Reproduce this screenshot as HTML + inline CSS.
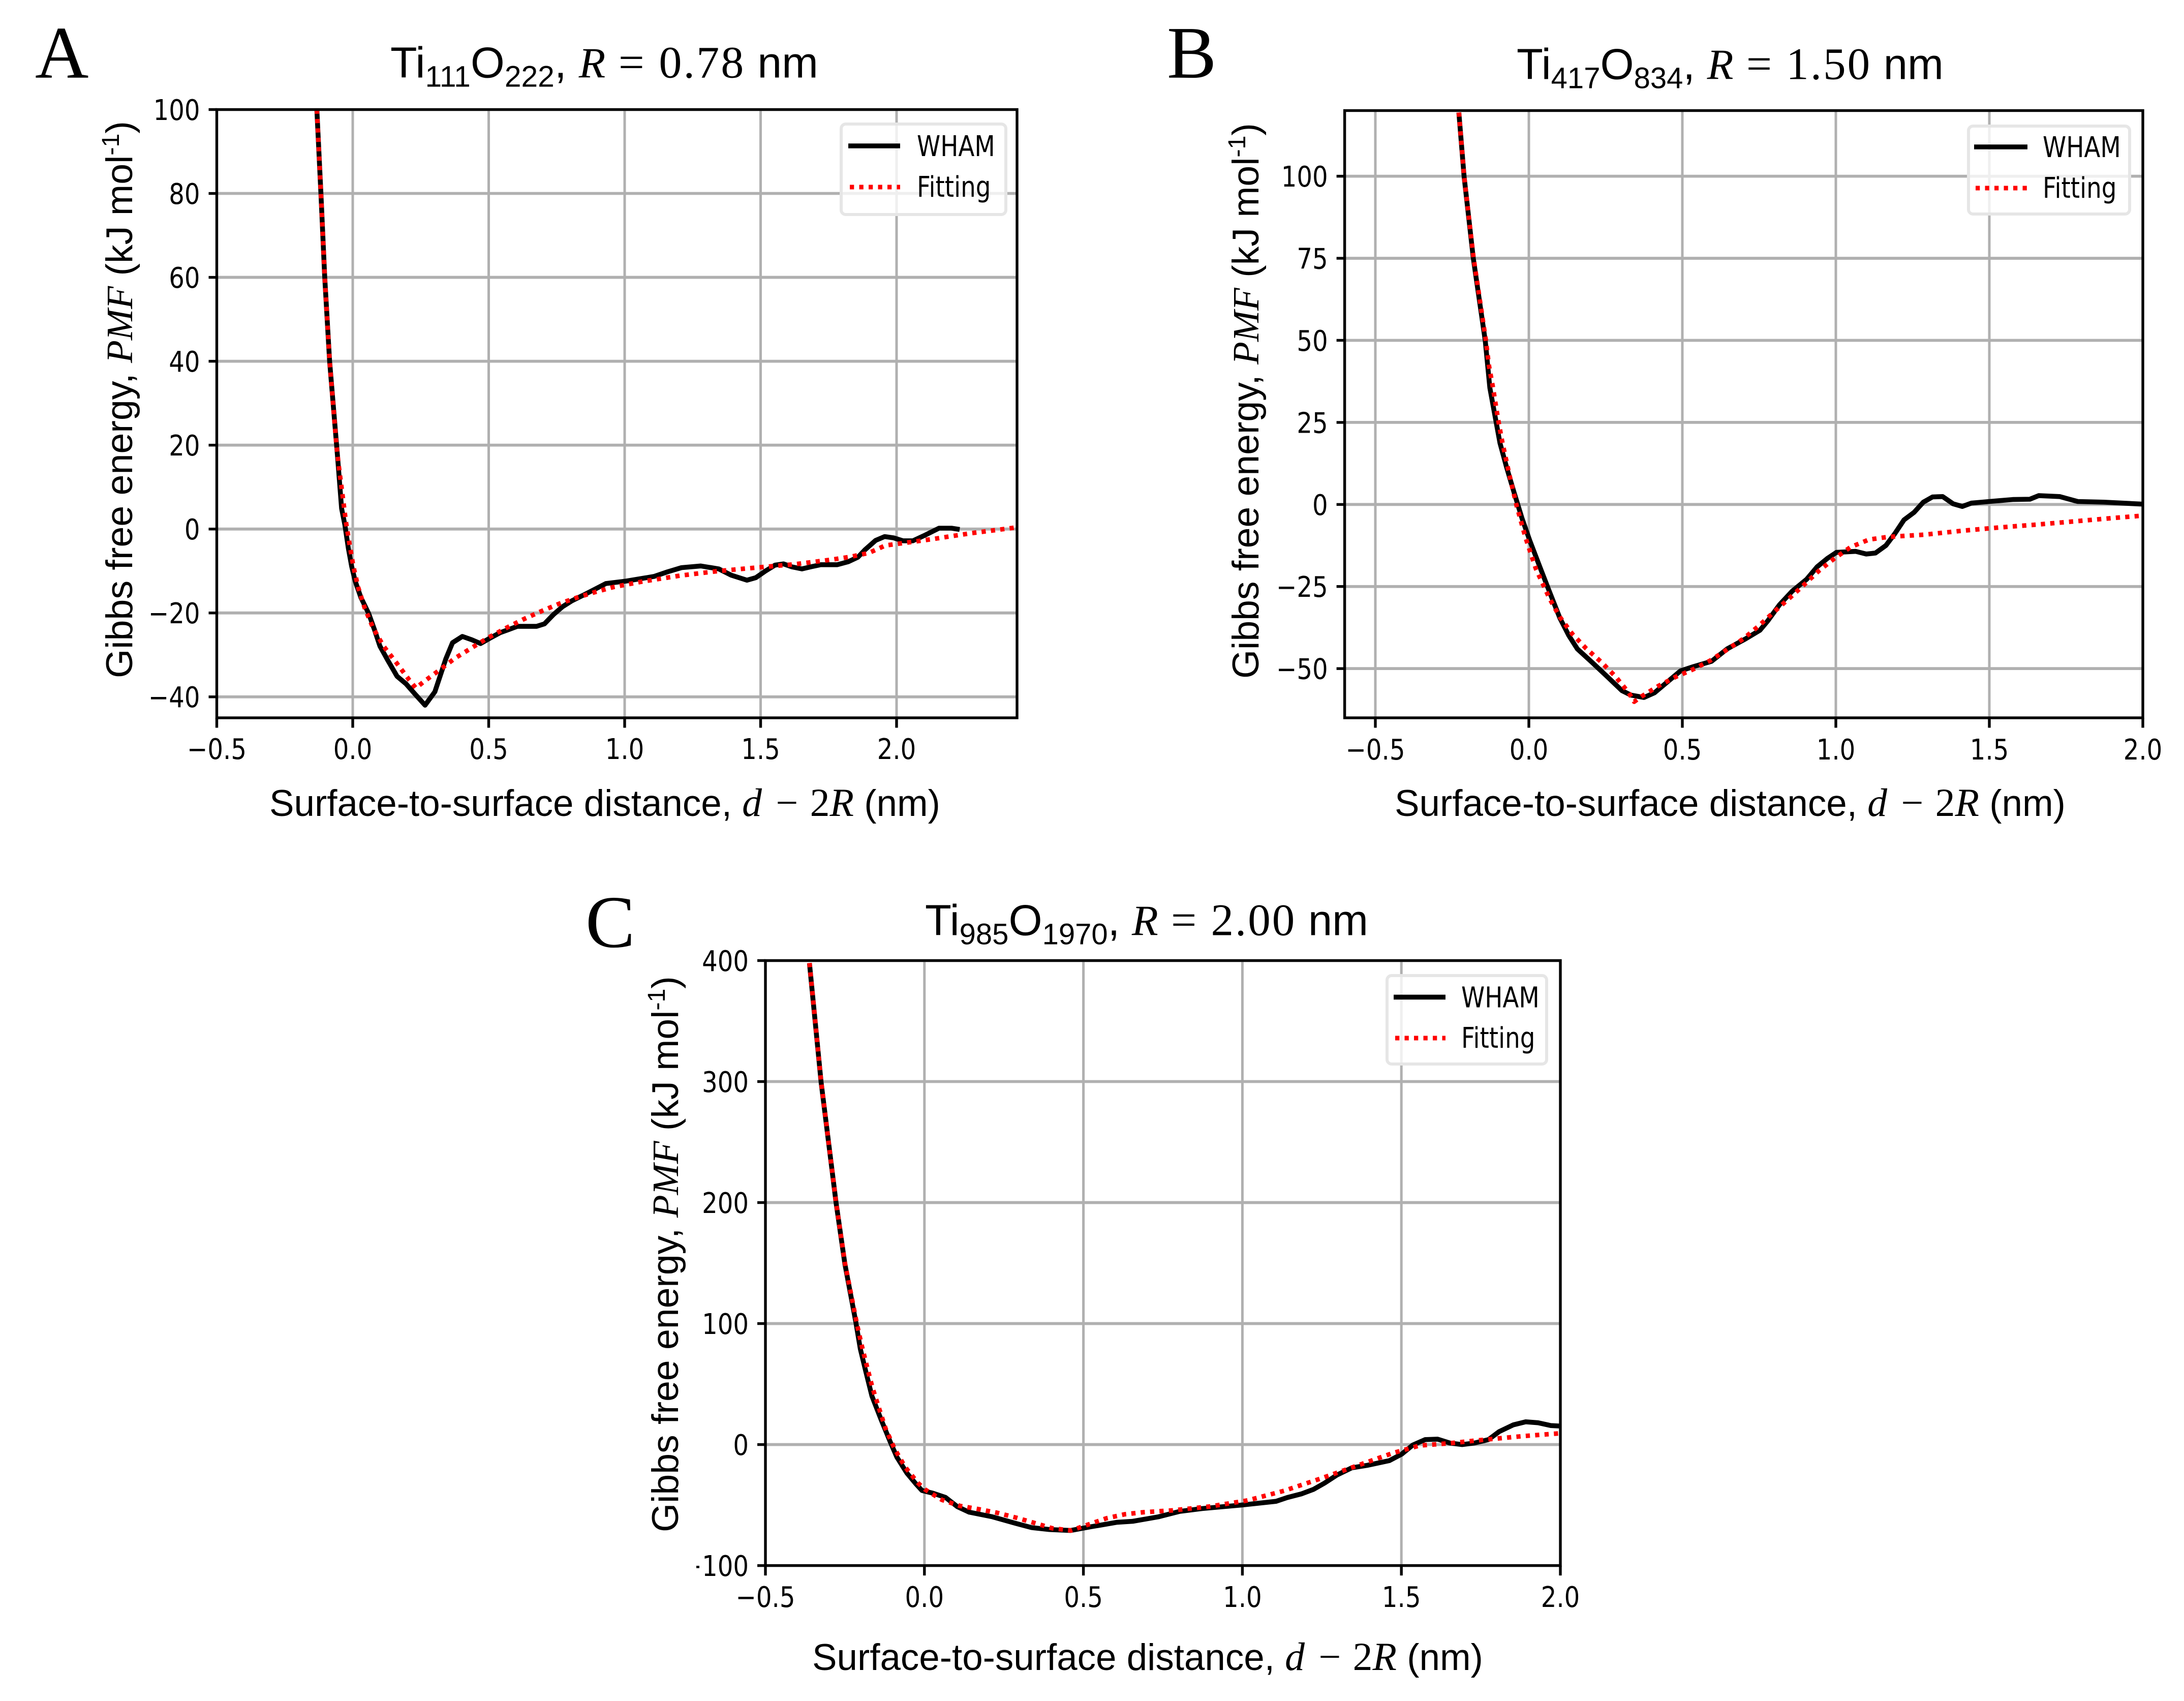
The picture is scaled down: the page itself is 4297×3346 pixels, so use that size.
<!DOCTYPE html>
<html lang="en">
<head>
<meta charset="utf-8">
<title>Gibbs free energy PMF curves for TiO2 nanoparticles</title>
<style>
html,body{margin:0;padding:0;background:#fff;width:4297px;height:3346px;overflow:hidden}
svg{display:block}
text{font-family:"Liberation Sans",sans-serif;fill:#000;white-space:pre}
.m{font-family:"Liberation Serif",serif}
.i{font-family:"Liberation Serif",serif;font-style:italic}
.panel-letter{font-family:"Liberation Serif",serif;font-size:146px}
.tick{font-family:"DejaVu Sans",sans-serif;font-size:56px}
.leg{font-family:"DejaVu Sans",sans-serif;font-size:56px}
.ttl{font-size:85px}
.lab{font-size:73px}
</style>
</head>
<body>
<svg id="fig" xmlns="http://www.w3.org/2000/svg" width="4297" height="3346" viewBox="0 0 4297 3346">
  <rect width="4297" height="3346" fill="#fff"/>
  <g id="panel-a"></g>
  <g id="panel-b"></g>
  <g id="panel-c"></g>

  <text class="panel-letter" x="69" y="152.7">A</text>
  <text class="panel-letter" x="2296" y="152.7">B</text>
  <text class="panel-letter" x="1152" y="1862.7">C</text>

  <text class="ttl fit" data-x0="768" data-x1="1610" data-y="152.6">Ti<tspan dy="18" font-size="58">111</tspan><tspan dy="-18">O</tspan><tspan dy="18" font-size="58">222</tspan><tspan dy="-18">, </tspan><tspan class="i">R</tspan><tspan class="m" font-size="89" letter-spacing="3"> = 0.78</tspan> nm</text>
  <text class="ttl fit" data-x0="2984" data-x1="3824" data-y="155.6">Ti<tspan dy="18" font-size="58">417</tspan><tspan dy="-18">O</tspan><tspan dy="18" font-size="58">834</tspan><tspan dy="-18">, </tspan><tspan class="i">R</tspan><tspan class="m" font-size="89" letter-spacing="3"> = 1.50</tspan> nm</text>
  <text class="ttl fit" data-x0="1820" data-x1="2692" data-y="1839.6">Ti<tspan dy="18" font-size="58">985</tspan><tspan dy="-18">O</tspan><tspan dy="18" font-size="58">1970</tspan><tspan dy="-18">, </tspan><tspan class="i">R</tspan><tspan class="m" font-size="89" letter-spacing="3"> = 2.00</tspan> nm</text>

  <text class="lab fit" data-x0="530" data-x1="1850" data-y="1605">Surface-to-surface distance, <tspan class="i" font-size="78">d</tspan><tspan class="m" font-size="78" dx="8"> − </tspan><tspan class="m" font-size="78" dx="4">2</tspan><tspan class="i" font-size="78">R</tspan> (nm)</text>
  <text class="lab fit" data-x0="2744" data-x1="4064" data-y="1605">Surface-to-surface distance, <tspan class="i" font-size="78">d</tspan><tspan class="m" font-size="78" dx="8"> − </tspan><tspan class="m" font-size="78" dx="4">2</tspan><tspan class="i" font-size="78">R</tspan> (nm)</text>
  <text class="lab fit" data-x0="1598" data-x1="2918" data-y="3285">Surface-to-surface distance, <tspan class="i" font-size="78">d</tspan><tspan class="m" font-size="78" dx="8"> − </tspan><tspan class="m" font-size="78" dx="4">2</tspan><tspan class="i" font-size="78">R</tspan> (nm)</text>

  <text class="lab fitv" data-y0="1334" data-y1="238" data-x="260">Gibbs free energy, <tspan class="i">PMF</tspan> (kJ mol<tspan dy="-26" font-size="48">-1</tspan><tspan dy="26">)</tspan></text>
  <text class="lab fitv" data-y0="1335" data-y1="242" data-x="2476">Gibbs free energy, <tspan class="i">PMF</tspan> (kJ mol<tspan dy="-26" font-size="48">-1</tspan><tspan dy="26">)</tspan></text>
  <text class="lab fitv" data-y0="3014" data-y1="1920" data-x="1334">Gibbs free energy, <tspan class="i">PMF</tspan> (kJ mol<tspan dy="-26" font-size="48">-1</tspan><tspan dy="26">)</tspan></text>
</svg>

<script>
// ---------- Panel A data ----------
const aXTicks = [-0.5, 0, 0.5, 1, 1.5, 2];
const aXTickLabels = ['−0.5', '0.0', '0.5', '1.0', '1.5', '2.0'];
const aYTicks = [-40, -20, 0, 20, 40, 60, 80, 100];
const aYTickLabels = ['−40', '−20', '0', '20', '40', '60', '80', '100'];
const aWhamD = [-0.132,-0.117,-0.103,-0.085,-0.0555,-0.041,-0.029,-0.016,-0.004,0.009,0.03,0.059,0.08,0.10,0.13,0.163,0.196,0.23,0.266,0.302,0.322,0.342,0.367,0.403,0.438,0.47,0.505,0.542,0.572,0.605,0.676,0.705,0.738,0.772,0.806,0.847,0.889,0.931,1.006,1.108,1.158,1.209,1.28,1.346,1.392,1.45,1.482,1.518,1.553,1.584,1.614,1.652,1.685,1.721,1.782,1.822,1.858,1.883,1.923,1.956,1.989,2.024,2.06,2.10,2.156,2.202,2.232];
const aWhamPmf = [100,80,60,40,17,4.9,1,-4.6,-8.9,-12.4,-16.3,-20.2,-24,-27.9,-31.4,-35.1,-36.9,-39.4,-42,-38.8,-34.9,-31,-27.1,-25.6,-26.4,-27.3,-26,-24.7,-24,-23.2,-23.2,-22.6,-20.4,-18.5,-17.1,-15.8,-14.4,-13,-12.4,-11.3,-10.2,-9.2,-8.8,-9.5,-11,-12.2,-11.6,-10,-8.6,-8.3,-9,-9.5,-9,-8.5,-8.5,-7.8,-6.7,-5,-2.7,-1.8,-2.1,-2.8,-2.8,-1.6,0.2,0.2,-0.1];
const aFitD = [-0.132,-0.117,-0.103,-0.085,-0.06,-0.051,-0.035,-0.025,-0.012,0.002,0.02,0.044,0.075,0.113,0.161,0.207,0.232,0.259,0.317,0.376,0.438,0.501,0.564,0.628,0.693,0.759,0.826,0.893,0.961,1.067,1.204,1.346,1.482,1.624,1.761,1.832,1.898,1.959,2.03,2.131,2.273,2.443];
const aFitPmf = [100,80,60,40,20,14.9,6.8,1.7,-3.5,-8.8,-13.9,-18.8,-23.6,-27.9,-31.9,-35.9,-37.9,-36.5,-33.7,-30.8,-28.3,-25.8,-23.6,-21.5,-19.6,-17.8,-16.3,-15,-13.8,-12.5,-11.1,-10,-9.2,-8.4,-7.3,-6.6,-5.7,-3.9,-3.3,-2.4,-1,0.4];

// ---------- Panel B data ----------
const bXTicks = [-0.5, 0, 0.5, 1, 1.5, 2];
const bXTickLabels = ['−0.5', '0.0', '0.5', '1.0', '1.5', '2.0'];
const bYTicks = [-50, -25, 0, 25, 50, 75, 100];
const bYTickLabels = ['−50', '−25', '0', '25', '50', '75', '100'];
const bWhamD = [-0.228,-0.211,-0.181,-0.142,-0.127,-0.111,-0.094,-0.073,-0.047,-0.022,0.003,0.037,0.071,0.101,0.13,0.158,0.206,0.257,0.303,0.333,0.375,0.409,0.451,0.494,0.536,0.595,0.646,0.705,0.753,0.778,0.816,0.858,0.905,0.939,0.973,1.002,1.065,1.099,1.129,1.163,1.192,1.222,1.255,1.285,1.315,1.348,1.382,1.412,1.441,1.5,1.576,1.632,1.661,1.729,1.788,1.873,2.0];
const bWhamPmf = [119.4,99.9,75,49.9,35.5,27.3,18.7,11.5,3.3,-4.3,-11,-19.3,-27.5,-34.6,-39.9,-44,-48.1,-52.6,-56.7,-58.1,-58.8,-57.4,-54.1,-50.7,-49.4,-47.8,-44,-41,-38.3,-35.5,-30.6,-26.4,-22.8,-19,-16.4,-14.6,-14.3,-15.1,-14.8,-12.5,-8.9,-4.7,-2.4,0.7,2.3,2.4,0.2,-0.6,0.4,0.9,1.5,1.6,2.7,2.4,0.9,0.7,0.1];
const bFitD = [-0.228,-0.211,-0.18,-0.14,-0.13,-0.117,-0.1,-0.087,-0.064,-0.04,-0.011,0.023,0.067,0.101,0.141,0.187,0.236,0.282,0.325,0.343,0.367,0.422,0.477,0.536,0.592,0.646,0.699,0.749,0.799,0.847,0.897,0.945,0.996,1.048,1.108,1.169,1.289,1.412,1.534,1.659,1.784,1.906,2.0];
const bFitPmf = [119.4,100,75,50,42.3,35.7,25.8,19.2,9.3,-0.3,-10.1,-19.6,-28.6,-34.3,-39.4,-43.9,-48,-52.4,-57.3,-60.1,-58.5,-55.3,-52.6,-50.2,-47.5,-44.2,-40.9,-37,-32.7,-28.7,-24.4,-20.2,-16.4,-13,-10.7,-9.9,-9.2,-8,-7,-6.1,-5.1,-4.1,-3.4];

// ---------- Panel C data ----------
const cXTicks = [-0.5, 0, 0.5, 1, 1.5, 2];
const cXTickLabels = ['−0.5', '0.0', '0.5', '1.0', '1.5', '2.0'];
const cYTicks = [-100, 0, 100, 200, 300, 400];
const cYTickLabels = ['−100', '0', '100', '200', '300', '400'];
const cWhamD = [-0.3616,-0.325,-0.278,-0.25,-0.216,-0.2015,-0.185,-0.165,-0.136,-0.108,-0.087,-0.055,-0.026,-0.008,0.027,0.066,0.104,0.141,0.214,0.288,0.337,0.393,0.459,0.524,0.606,0.655,0.736,0.803,0.873,1.0,1.106,1.141,1.185,1.224,1.258,1.297,1.344,1.392,1.462,1.501,1.536,1.575,1.614,1.652,1.691,1.73,1.774,1.808,1.852,1.891,1.93,1.97,2.0];
const cWhamPmf = [397.8,299.5,200,149,101.5,79,61,40,20.5,2.6,-10.2,-23.6,-32.7,-37.9,-40.2,-43.6,-51.4,-55.9,-59.7,-65.2,-68.6,-70.2,-71,-67.9,-64.2,-63.4,-59.7,-55.2,-52.9,-49.9,-46.9,-43.8,-40.8,-37,-31.9,-25.2,-19.2,-17.2,-13.3,-7.9,-0.4,4.1,4.5,1.3,0,1.3,4.1,10.8,16.3,18.8,18,15.7,15.3];
const cFitD = [-0.3616,-0.325,-0.278,-0.25,-0.2126,-0.1976,-0.181,-0.164,-0.143,-0.122,-0.094,-0.061,-0.021,0.002,0.055,0.112,0.171,0.229,0.288,0.345,0.401,0.461,0.516,0.573,0.63,0.69,0.779,0.897,1.016,1.131,1.245,1.358,1.471,1.557,1.648,1.765,1.884,2.0];
const cFitPmf = [398,300,200,150,100,82.3,64.8,47.5,30.3,13,-3.4,-18.4,-31.6,-37.2,-45.7,-50.7,-53.4,-56.4,-60.4,-64.7,-69.1,-71,-66,-60.9,-57.6,-55.9,-54.4,-51.2,-46.2,-38.2,-28.2,-17.7,-7.2,-0.8,1,4.1,7,9.3];

// ---------- Shared legend text ----------
const legendLabels = ['WHAM', 'Fitting'];

const NS = 'http://www.w3.org/2000/svg';
const TICK_SX = 0.86;

function mk(parent, tag, attrs) {
  const el = document.createElementNS(NS, tag);
  for (const k in attrs) el.setAttribute(k, attrs[k]);
  parent.appendChild(el);
  return el;
}

function drawPanel(root, id, cfg, xTicks, xLabels, yTicks, yLabels, wD, wP, fD, fP) {
  const sx = v => cfg.left + (v - cfg.xMin) / (cfg.xMax - cfg.xMin) * (cfg.right - cfg.left);
  const sy = v => cfg.bottom - (v - cfg.yMin) / (cfg.yMax - cfg.yMin) * (cfg.bottom - cfg.top);
  const defs = mk(root, 'defs', {});
  const clip = mk(defs, 'clipPath', {id: id + '-clip'});
  mk(clip, 'rect', {x: cfg.left, y: cfg.top, width: cfg.right - cfg.left, height: cfg.bottom - cfg.top});

  // gridlines
  const plot = mk(root, 'g', {'clip-path': 'url(#' + id + '-clip)'});
  
  
  xTicks.forEach(v => {
    const l = mk(plot, 'line', {x1: sx(v), x2: sx(v), y1: cfg.top, y2: cfg.bottom, stroke: '#b0b0b0', 'stroke-width': 5});
    
    
  });
  yTicks.forEach(v => {
    const l = mk(plot, 'line', {x1: cfg.left, x2: cfg.right, y1: sy(v), y2: sy(v), stroke: '#b0b0b0', 'stroke-width': 5.8});
    
    
  });

  // series
  const path = (xs, ys) => xs.map((x, i) => sx(x).toFixed(1) + ',' + sy(ys[i]).toFixed(1)).join(' ');
  const wham = mk(plot, 'polyline', {points: path(wD, wP), fill: 'none', stroke: '#000', 'stroke-width': 9.6, 'stroke-linejoin': 'round'});
  
  
  const fit = mk(plot, 'polyline', {points: path(fD, fP), fill: 'none', stroke: '#f00', 'stroke-width': 9, 'stroke-dasharray': '8.3 10.2', 'stroke-linejoin': 'round'});
  
  

  // frame
  const frame = mk(root, 'rect', {x: cfg.left, y: cfg.top, width: cfg.right - cfg.left, height: cfg.bottom - cfg.top, fill: 'none', stroke: '#000', 'stroke-width': 5.4});
  
  

  // x ticks
  xTicks.forEach((v, i) => {
    const t = mk(root, 'line', {x1: sx(v), x2: sx(v), y1: cfg.bottom, y2: cfg.bottom + 19.5, stroke: '#000', 'stroke-width': 5.4});
    
    
    const lb = mk(root, 'text', {class: 'tick', 'text-anchor': 'middle', transform: 'translate(' + sx(v) + ',' + cfg.xLabelY + ') scale(' + TICK_SX + ',1)'});
    
    
    lb.textContent = xLabels[i];
  });

  // y ticks
  const yLabelGroup = mk(root, 'g', {});
  
  
  if (cfg.yLabelClipX) {
    const c2 = mk(defs, 'clipPath', {id: id + '-yclip'});
    mk(c2, 'rect', {x: cfg.yLabelClipX, y: 0, width: 400, height: 3346});
    yLabelGroup.setAttribute('clip-path', 'url(#' + id + '-yclip)');
  }
  yTicks.forEach((v, i) => {
    const t = mk(root, 'line', {x1: cfg.left - 16, x2: cfg.left, y1: sy(v), y2: sy(v), stroke: '#000', 'stroke-width': 5.4});
    
    
    const lb = mk(yLabelGroup, 'text', {class: 'tick', 'text-anchor': 'end', transform: 'translate(' + (cfg.left - 33) + ',' + (sy(v) + 20.5) + ') scale(' + TICK_SX + ',1)'});
    
    
    lb.textContent = yLabels[i];
  });

  // legend
  const L = cfg.legend;
  const lg = mk(root, 'g', {});
  
  
  const box = mk(lg, 'rect', {x: L.x0 + 3, y: L.y0 + 3, width: L.x1 - L.x0 - 6, height: L.y1 - L.y0 - 6, rx: 9, ry: 9, fill: '#fff', 'fill-opacity': 0.8, stroke: '#e6e6e6', 'stroke-width': 6});
  
  
  const h1 = mk(lg, 'line', {x1: L.lineX0, x2: L.lineX1, y1: L.y1Line, y2: L.y1Line, stroke: '#000', 'stroke-width': 9.6});
  
  
  const h2 = mk(lg, 'line', {x1: L.lineX0 + 3, x2: L.lineX1, y1: L.y2Line, y2: L.y2Line, stroke: '#f00', 'stroke-width': 9, 'stroke-dasharray': '8.3 10.2'});
  
  
  const t1 = mk(lg, 'text', {class: 'leg', transform: 'translate(' + L.textX + ',' + (L.y1Line + 20) + ') scale(0.835,1)'});
  
  
  t1.textContent = legendLabels[0];
  const t2 = mk(lg, 'text', {class: 'leg', transform: 'translate(' + L.textX + ',' + (L.y2Line + 19) + ') scale(0.835,1)'});
  
  
  t2.textContent = legendLabels[1];
}

drawPanel(document.getElementById('panel-a'), 'a',
  {left: 426.5, right: 2001, top: 215.5, bottom: 1412, xMin: -0.5, xMax: 2.443, yMin: -45, yMax: 100, xLabelY: 1493,
   legend: {x0: 1652, x1: 1982, y0: 241, y1: 425, lineX0: 1669, lineX1: 1771, y1Line: 287, y2Line: 368, textX: 1804}},
  aXTicks, aXTickLabels, aYTicks, aYTickLabels, aWhamD, aWhamPmf, aFitD, aFitPmf);

drawPanel(document.getElementById('panel-b'), 'b',
  {left: 2645.6, right: 4216, top: 217.5, bottom: 1412, xMin: -0.6, xMax: 2.0, yMin: -65, yMax: 120, xLabelY: 1494,
   legend: {x0: 3870, x1: 4193, y0: 245, y1: 424, lineX0: 3884, lineX1: 3989, y1Line: 289, y2Line: 370, textX: 4019}},
  bXTicks, bXTickLabels, bYTicks, bYTickLabels, bWhamD, bWhamPmf, bFitD, bFitPmf);

drawPanel(document.getElementById('panel-c'), 'c',
  {left: 1506, right: 3070, top: 1889.5, bottom: 3079.6, xMin: -0.5, xMax: 2.0, yMin: -100, yMax: 400, xLabelY: 3161, yLabelClipX: 1370,
   legend: {x0: 2726, x1: 3046, y0: 1916, y1: 2096, lineX0: 2742, lineX1: 2844, y1Line: 1961.4, y2Line: 2042, textX: 2875}},
  cXTicks, cXTickLabels, cYTicks, cYTickLabels, cWhamD, cWhamPmf, cFitD, cFitPmf);

// Fit horizontally squeezed labels to their measured extents
document.querySelectorAll('text.fit').forEach(el => {
  const w = el.getBBox().width;
  const x0 = +el.dataset.x0, x1 = +el.dataset.x1, y = +el.dataset.y;
  el.setAttribute('transform', 'translate(' + x0 + ',' + y + ') scale(' + ((x1 - x0) / w) + ',1)');
});
document.querySelectorAll('text.fitv').forEach(el => {
  const w = el.getBBox().width;
  const y0 = +el.dataset.y0, y1 = +el.dataset.y1, x = +el.dataset.x;
  el.setAttribute('transform', 'translate(' + x + ',' + y0 + ') rotate(-90) scale(' + ((y0 - y1) / w) + ',1)');
});
</script>
</body>
</html>
